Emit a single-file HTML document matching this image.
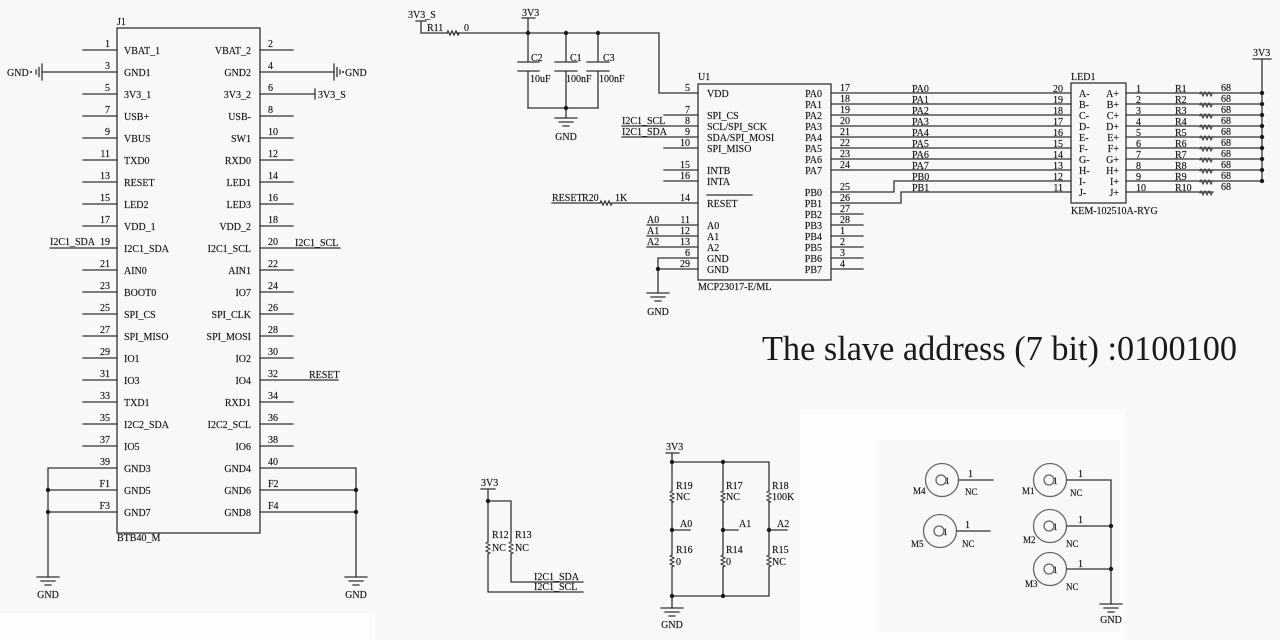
<!DOCTYPE html>
<html><head><meta charset="utf-8"><style>
html,body{margin:0;padding:0;background:#f8f8f8;}
svg{display:block;}
</style></head><body>
<svg width="1280" height="640" viewBox="0 0 1280 640" xmlns="http://www.w3.org/2000/svg">
<rect x="0" y="0" width="1280" height="640" fill="#f8f8f8"/>
<rect x="0" y="613" width="375" height="27" fill="#fdfdfd"/>
<rect x="800" y="410" width="325" height="230" fill="#fdfdfd"/>
<rect x="877" y="440" width="243" height="192" fill="#f8f8f8"/>

<!-- ================= WIRES ================= -->
<g stroke="#333" stroke-width="1.3" fill="none" stroke-linecap="square">
<!-- J1 box -->
<rect x="117" y="28" width="143" height="505"/>
<!-- J1 left pins -->
<path d="M83 50H117 M43 72H117 M83 94H117 M83 116H117 M83 138H117 M83 160H117 M83 182H117 M83 204H117 M83 226H117 M50 248H117 M83 270H117 M83 292H117 M83 314H117 M83 336H117 M83 358H117 M83 380H117 M83 402H117 M83 424H117 M83 446H117 M48 468H117 M48 490H117 M48 512H117 M48 468V577"/>
<!-- J1 right pins -->
<path d="M260 50H293 M260 72H334 M260 94H315 M315 89V99 M260 116H293 M260 138H293 M260 160H293 M260 182H293 M260 204H293 M260 226H293 M260 248H340 M260 270H293 M260 292H293 M260 314H293 M260 336H293 M260 358H293 M260 380H338 M260 402H293 M260 424H293 M260 446H293 M260 468H356 M260 490H356 M260 512H356 M356 468V577"/>
<!-- horizontal GND symbols J1 -->
<path d="M42 64V80 M39 67.5V76.5 M36 70V74"/>
<path d="M334 64V80 M337 67.5V76.5 M340 70V74"/>
<!-- vertical GND symbols -->
<path d="M37 577H59 M41 581H55 M45 585H51"/>
<path d="M345 577H367 M349 581H363 M353 585H359"/>

<!-- top: 3V3_S / R11 / caps -->
<path d="M416 21H426 M421 21V33H447 M458 33H659V93H698"/>
<path d="M447 33 l1 -2 l2 4 l2 -4 l2 4 l2 -4 l2 4 l1 -2"/>
<path d="M522 18H535 M528 18V33"/>
<path d="M528 33V62 M518 62H539 M518 71H539 M528 71V108"/>
<path d="M566 33V62 M555 62H577 M555 71H577 M566 71V108"/>
<path d="M598 33V62 M587 62H609 M587 71H609 M598 71V108"/>
<path d="M528 108H598 M566 108V118"/>
<path d="M555 118H577 M559 122H573 M563 126H569"/>

<!-- U1 -->
<rect x="698" y="84" width="133" height="196"/>
<path d="M664 115H698 M622 126H698 M622 137H698 M664 148H698 M664 170H698 M664 181H698"/>
<path d="M552 203H600 M612 203H698"/>
<path d="M600 203 l1 -2 l2 4 l2 -4 l2 4 l2 -4 l2 4 l1 -2"/>
<path d="M707 195H752"/>
<path d="M647 225H698 M647 236H698 M647 247H698"/>
<path d="M658 258H698 M658 269H698 M658 258V293"/>
<path d="M647 293H669 M651 297H665 M655 301H661"/>
<!-- U1 right -->
<path d="M831 93H1071 M831 104H1071 M831 115H1071 M831 126H1071 M831 137H1071 M831 148H1071 M831 159H1071 M831 170H1071"/>
<path d="M831 192H894V181H1071 M831 203H901V192H1071"/>
<path d="M831 214H863 M831 225H863 M831 236H863 M831 247H863 M831 258H863 M831 269H863"/>

<!-- LED1 -->
<rect x="1071" y="83" width="55" height="120"/>
<path d="M1126 93H1262 M1126 104H1262 M1126 115H1262 M1126 126H1262 M1126 137H1262 M1126 148H1262 M1126 159H1262 M1126 170H1262 M1126 181H1262 M1126 192H1213"/>
<path d="M1200 94 l1 -2 l2 4 l2 -4 l2 4 l2 -4 l2 4 l1 -2 M1200 105 l1 -2 l2 4 l2 -4 l2 4 l2 -4 l2 4 l1 -2 M1200 116 l1 -2 l2 4 l2 -4 l2 4 l2 -4 l2 4 l1 -2 M1200 127 l1 -2 l2 4 l2 -4 l2 4 l2 -4 l2 4 l1 -2 M1200 138 l1 -2 l2 4 l2 -4 l2 4 l2 -4 l2 4 l1 -2 M1200 149 l1 -2 l2 4 l2 -4 l2 4 l2 -4 l2 4 l1 -2 M1200 160 l1 -2 l2 4 l2 -4 l2 4 l2 -4 l2 4 l1 -2 M1200 171 l1 -2 l2 4 l2 -4 l2 4 l2 -4 l2 4 l1 -2 M1200 182 l1 -2 l2 4 l2 -4 l2 4 l2 -4 l2 4 l1 -2 M1200 193 l1 -2 l2 4 l2 -4 l2 4 l2 -4 l2 4 l1 -2" stroke-width="1"/>
<path d="M1253 59H1271 M1262 59V181"/>

<!-- I2C pullups -->
<path d="M481 489H495 M488 489V542 M488 554V592H583 M488 501H511V542 M511 554V582H583"/>
<path d="M488 542 l-2 1 l4 2 l-4 2 l4 2 l-4 2 l4 2 l-2 1 M511 542 l-2 1 l4 2 l-4 2 l4 2 l-4 2 l4 2 l-2 1" stroke-width="1"/>

<!-- address resistors -->
<path d="M666 453H679 M672 453V491 M672 502V555 M672 567V608 M672 462H769V491 M723 462V491 M723 502V555 M723 567V596 M769 502V555 M769 567V596 M672 596H769"/>
<path d="M672 491 l-2 1 l4 2 l-4 2 l4 2 l-4 2 l4 2 l-2 0 M723 491 l-2 1 l4 2 l-4 2 l4 2 l-4 2 l4 2 l-2 0 M769 491 l-2 1 l4 2 l-4 2 l4 2 l-4 2 l4 2 l-2 0 M672 555 l-2 1 l4 2 l-4 2 l4 2 l-4 2 l4 2 l-2 1 M723 555 l-2 1 l4 2 l-4 2 l4 2 l-4 2 l4 2 l-2 1 M769 555 l-2 1 l4 2 l-4 2 l4 2 l-4 2 l4 2 l-2 1" stroke-width="1"/>
<path d="M672 530H690 M723 530H738 M769 530H787"/>
<path d="M661 608H683 M665 612H679 M669 616H675"/>

<!-- motors -->
<g stroke="#666" stroke-width="1.3">
<circle cx="942" cy="480" r="16.5"/><circle cx="941" cy="480" r="5"/>
<circle cx="940" cy="531" r="16.5"/><circle cx="939" cy="531" r="5"/>
<circle cx="1050" cy="480" r="16.5"/><circle cx="1049" cy="480" r="5"/>
<circle cx="1050" cy="526" r="16.5"/><circle cx="1049" cy="526" r="5"/>
<circle cx="1050" cy="569" r="16.5"/><circle cx="1049" cy="569" r="5"/>
</g>
<path d="M959 480H993 M957 531H990 M1067 480H1111V604 M1067 526H1111 M1067 569H1111"/>
<path d="M1100 604H1122 M1104 608H1118 M1108 612H1114"/>
</g>

<!-- ================= DOTS ================= -->
<g fill="#1a1a1a">
<circle cx="48" cy="490" r="2.2"/><circle cx="48" cy="512" r="2.2"/>
<circle cx="356" cy="490" r="2.2"/><circle cx="356" cy="512" r="2.2"/>
<circle cx="31" cy="72" r="1"/><circle cx="343" cy="72" r="1"/>
<circle cx="528" cy="33" r="2.2"/><circle cx="566" cy="33" r="2.2"/><circle cx="598" cy="33" r="2.2"/>
<circle cx="566" cy="108" r="2.2"/>
<circle cx="658" cy="269" r="2.2"/>
<circle cx="1262" cy="93" r="2.2"/><circle cx="1262" cy="104" r="2.2"/><circle cx="1262" cy="115" r="2.2"/><circle cx="1262" cy="126" r="2.2"/><circle cx="1262" cy="137" r="2.2"/><circle cx="1262" cy="148" r="2.2"/><circle cx="1262" cy="159" r="2.2"/><circle cx="1262" cy="170" r="2.2"/><circle cx="1262" cy="181" r="2.2"/>
<circle cx="488" cy="501" r="2.2"/>
<circle cx="672" cy="462" r="2.2"/><circle cx="723" cy="462" r="2.2"/>
<circle cx="672" cy="530" r="2.2"/><circle cx="723" cy="530" r="2.2"/><circle cx="769" cy="530" r="2.2"/>
<circle cx="672" cy="596" r="2.2"/><circle cx="723" cy="596" r="2.2"/>
<circle cx="1111" cy="526" r="2.2"/><circle cx="1111" cy="569" r="2.2"/>
</g>

<!-- ================= TEXT ================= -->
<g font-family="'Liberation Serif', serif" font-size="10" fill="#151515" stroke="#151515" stroke-width="0.15">
<!-- J1 -->
<text x="117" y="25">J1</text>
<text x="117" y="541">BTB40_M</text>
<text x="7" y="76">GND</text>
<text x="345" y="76">GND</text>
<text x="318" y="98">3V3_S</text>
<text x="50" y="245">I2C1_SDA</text>
<text x="295" y="246">I2C1_SCL</text>
<text x="309" y="378">RESET</text>
<text x="48" y="598" text-anchor="middle">GND</text>
<text x="356" y="598" text-anchor="middle">GND</text>

<g>
<text x="124" y="54">VBAT_1</text><text x="124" y="76">GND1</text><text x="124" y="98">3V3_1</text><text x="124" y="120">USB+</text><text x="124" y="142">VBUS</text><text x="124" y="164">TXD0</text><text x="124" y="186">RESET</text><text x="124" y="208">LED2</text><text x="124" y="230">VDD_1</text><text x="124" y="252">I2C1_SDA</text><text x="124" y="274">AIN0</text><text x="124" y="296">BOOT0</text><text x="124" y="318">SPI_CS</text><text x="124" y="340">SPI_MISO</text><text x="124" y="362">IO1</text><text x="124" y="384">IO3</text><text x="124" y="406">TXD1</text><text x="124" y="428">I2C2_SDA</text><text x="124" y="450">IO5</text><text x="124" y="472">GND3</text><text x="124" y="494">GND5</text><text x="124" y="516">GND7</text>
</g>
<g text-anchor="end">
<text x="110" y="47">1</text><text x="110" y="69">3</text><text x="110" y="91">5</text><text x="110" y="113">7</text><text x="110" y="135">9</text><text x="110" y="157">11</text><text x="110" y="179">13</text><text x="110" y="201">15</text><text x="110" y="223">17</text><text x="110" y="245">19</text><text x="110" y="267">21</text><text x="110" y="289">23</text><text x="110" y="311">25</text><text x="110" y="333">27</text><text x="110" y="355">29</text><text x="110" y="377">31</text><text x="110" y="399">33</text><text x="110" y="421">35</text><text x="110" y="443">37</text><text x="110" y="465">39</text><text x="110" y="487">F1</text><text x="110" y="509">F3</text>
</g>
<g text-anchor="end">
<text x="251" y="54">VBAT_2</text><text x="251" y="76">GND2</text><text x="251" y="98">3V3_2</text><text x="251" y="120">USB-</text><text x="251" y="142">SW1</text><text x="251" y="164">RXD0</text><text x="251" y="186">LED1</text><text x="251" y="208">LED3</text><text x="251" y="230">VDD_2</text><text x="251" y="252">I2C1_SCL</text><text x="251" y="274">AIN1</text><text x="251" y="296">IO7</text><text x="251" y="318">SPI_CLK</text><text x="251" y="340">SPI_MOSI</text><text x="251" y="362">IO2</text><text x="251" y="384">IO4</text><text x="251" y="406">RXD1</text><text x="251" y="428">I2C2_SCL</text><text x="251" y="450">IO6</text><text x="251" y="472">GND4</text><text x="251" y="494">GND6</text><text x="251" y="516">GND8</text>
</g>
<g>
<text x="268" y="47">2</text><text x="268" y="69">4</text><text x="268" y="91">6</text><text x="268" y="113">8</text><text x="268" y="135">10</text><text x="268" y="157">12</text><text x="268" y="179">14</text><text x="268" y="201">16</text><text x="268" y="223">18</text><text x="268" y="245">20</text><text x="268" y="267">22</text><text x="268" y="289">24</text><text x="268" y="311">26</text><text x="268" y="333">28</text><text x="268" y="355">30</text><text x="268" y="377">32</text><text x="268" y="399">34</text><text x="268" y="421">36</text><text x="268" y="443">38</text><text x="268" y="465">40</text><text x="268" y="487">F2</text><text x="268" y="509">F4</text>
</g>

<!-- top caps area -->
<text x="408" y="18">3V3_S</text>
<text x="427" y="31">R11</text>
<text x="464" y="31">0</text>
<text x="522" y="16">3V3</text>
<text x="531" y="61">C2</text><text x="530" y="82">10uF</text>
<text x="570" y="61">C1</text><text x="566" y="82">100nF</text>
<text x="603" y="61">C3</text><text x="599" y="82">100nF</text>
<text x="566" y="140" text-anchor="middle">GND</text>

<!-- U1 -->
<text x="698" y="80">U1</text>
<text x="698" y="290">MCP23017-E/ML</text>
<text x="622" y="124">I2C1_SCL</text>
<text x="622" y="135">I2C1_SDA</text>
<text x="552" y="201">RESET</text>
<text x="582" y="201">R20</text>
<text x="615" y="201">1K</text>
<text x="647" y="223">A0</text><text x="647" y="234">A1</text><text x="647" y="245">A2</text>
<text x="658" y="315" text-anchor="middle">GND</text>
<g>
<text x="707" y="97">VDD</text><text x="707" y="119">SPI_CS</text><text x="707" y="130">SCL/SPI_SCK</text><text x="707" y="141">SDA/SPI_MOSI</text><text x="707" y="152">SPI_MISO</text><text x="707" y="174">INTB</text><text x="707" y="185">INTA</text><text x="707" y="207">RESET</text><text x="707" y="229">A0</text><text x="707" y="240">A1</text><text x="707" y="251">A2</text><text x="707" y="262">GND</text><text x="707" y="273">GND</text>
</g>
<g text-anchor="end">
<text x="690" y="91">5</text><text x="690" y="113">7</text><text x="690" y="124">8</text><text x="690" y="135">9</text><text x="690" y="146">10</text><text x="690" y="168">15</text><text x="690" y="179">16</text><text x="690" y="201">14</text><text x="690" y="223">11</text><text x="690" y="234">12</text><text x="690" y="245">13</text><text x="690" y="256">6</text><text x="690" y="267">29</text>
</g>
<g text-anchor="end">
<text x="822" y="97">PA0</text><text x="822" y="108">PA1</text><text x="822" y="119">PA2</text><text x="822" y="130">PA3</text><text x="822" y="141">PA4</text><text x="822" y="152">PA5</text><text x="822" y="163">PA6</text><text x="822" y="174">PA7</text><text x="822" y="196">PB0</text><text x="822" y="207">PB1</text><text x="822" y="218">PB2</text><text x="822" y="229">PB3</text><text x="822" y="240">PB4</text><text x="822" y="251">PB5</text><text x="822" y="262">PB6</text><text x="822" y="273">PB7</text>
</g>
<g>
<text x="840" y="91">17</text><text x="840" y="102">18</text><text x="840" y="113">19</text><text x="840" y="124">20</text><text x="840" y="135">21</text><text x="840" y="146">22</text><text x="840" y="157">23</text><text x="840" y="168">24</text><text x="840" y="190">25</text><text x="840" y="201">26</text><text x="840" y="212">27</text><text x="840" y="223">28</text><text x="840" y="234">1</text><text x="840" y="245">2</text><text x="840" y="256">3</text><text x="840" y="267">4</text>
</g>

<!-- net labels to LED -->
<g>
<text x="912" y="92">PA0</text><text x="912" y="103">PA1</text><text x="912" y="114">PA2</text><text x="912" y="125">PA3</text><text x="912" y="136">PA4</text><text x="912" y="147">PA5</text><text x="912" y="158">PA6</text><text x="912" y="169">PA7</text><text x="912" y="180">PB0</text><text x="912" y="191">PB1</text>
</g>

<!-- LED1 -->
<text x="1071" y="80">LED1</text>
<text x="1071" y="214">KEM-102510A-RYG</text>
<g text-anchor="end">
<text x="1063" y="92">20</text><text x="1063" y="103">19</text><text x="1063" y="114">18</text><text x="1063" y="125">17</text><text x="1063" y="136">16</text><text x="1063" y="147">15</text><text x="1063" y="158">14</text><text x="1063" y="169">13</text><text x="1063" y="180">12</text><text x="1063" y="191">11</text>
</g>
<g>
<text x="1079" y="97">A-</text><text x="1079" y="108">B-</text><text x="1079" y="119">C-</text><text x="1079" y="130">D-</text><text x="1079" y="141">E-</text><text x="1079" y="152">F-</text><text x="1079" y="163">G-</text><text x="1079" y="174">H-</text><text x="1079" y="185">I-</text><text x="1079" y="196">J-</text>
</g>
<g text-anchor="end">
<text x="1119" y="97">A+</text><text x="1119" y="108">B+</text><text x="1119" y="119">C+</text><text x="1119" y="130">D+</text><text x="1119" y="141">E+</text><text x="1119" y="152">F+</text><text x="1119" y="163">G+</text><text x="1119" y="174">H+</text><text x="1119" y="185">I+</text><text x="1119" y="196">J+</text>
</g>
<g>
<text x="1136" y="92">1</text><text x="1136" y="103">2</text><text x="1136" y="114">3</text><text x="1136" y="125">4</text><text x="1136" y="136">5</text><text x="1136" y="147">6</text><text x="1136" y="158">7</text><text x="1136" y="169">8</text><text x="1136" y="180">9</text><text x="1136" y="191">10</text>
<text x="1175" y="92">R1</text><text x="1175" y="103">R2</text><text x="1175" y="114">R3</text><text x="1175" y="125">R4</text><text x="1175" y="136">R5</text><text x="1175" y="147">R6</text><text x="1175" y="158">R7</text><text x="1175" y="169">R8</text><text x="1175" y="180">R9</text><text x="1175" y="191">R10</text>
<text x="1221" y="91">68</text><text x="1221" y="102">68</text><text x="1221" y="113">68</text><text x="1221" y="124">68</text><text x="1221" y="135">68</text><text x="1221" y="146">68</text><text x="1221" y="157">68</text><text x="1221" y="168">68</text><text x="1221" y="179">68</text><text x="1221" y="190">68</text>
</g>
<text x="1253" y="56">3V3</text>

<!-- I2C pullups -->
<text x="481" y="486">3V3</text>
<text x="492" y="538">R12</text><text x="492" y="551">NC</text>
<text x="515" y="538">R13</text><text x="515" y="551">NC</text>
<text x="534" y="580">I2C1_SDA</text>
<text x="534" y="590">I2C1_SCL</text>

<!-- address -->
<text x="666" y="450">3V3</text>
<text x="676" y="489">R19</text><text x="676" y="500">NC</text>
<text x="726" y="489">R17</text><text x="726" y="500">NC</text>
<text x="772" y="489">R18</text><text x="772" y="500">100K</text>
<text x="680" y="527">A0</text>
<text x="739" y="527">A1</text>
<text x="777" y="527">A2</text>
<text x="676" y="553">R16</text><text x="676" y="565">0</text>
<text x="726" y="553">R14</text><text x="726" y="565">0</text>
<text x="772" y="553">R15</text><text x="772" y="565">NC</text>
<text x="672" y="628" text-anchor="middle">GND</text>

<!-- motors -->
<g font-size="9">
<text x="945" y="484">1</text><text x="943" y="535">1</text><text x="1053" y="484">1</text><text x="1053" y="530">1</text><text x="1053" y="573">1</text>
<text x="913" y="494">M4</text><text x="911" y="547">M5</text><text x="1022" y="494">M1</text><text x="1023" y="543">M2</text><text x="1025" y="587">M3</text>
<text x="965" y="495">NC</text><text x="962" y="547">NC</text><text x="1070" y="496">NC</text><text x="1066" y="547">NC</text><text x="1066" y="590">NC</text>
</g>
<text x="968" y="477">1</text><text x="965" y="528">1</text><text x="1078" y="477">1</text><text x="1078" y="523">1</text><text x="1078" y="567">1</text>
<text x="1111" y="623" text-anchor="middle">GND</text>
</g>

<text x="762" y="360" font-family="'Liberation Serif', serif" font-size="35" fill="#1a1a1a" textLength="475" lengthAdjust="spacingAndGlyphs">The slave address (7 bit) :0100100</text>
</svg>
</body></html>
